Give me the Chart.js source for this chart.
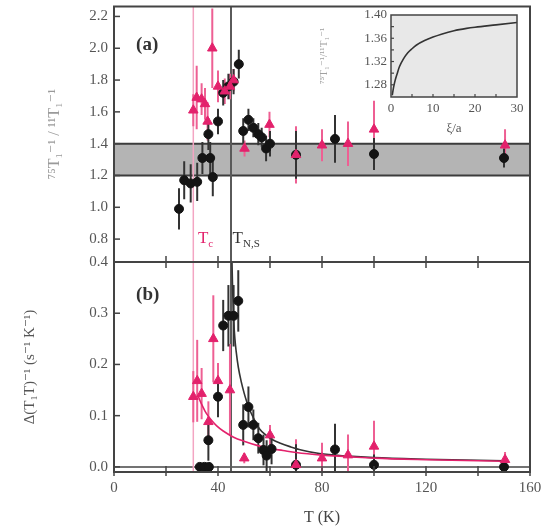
<!DOCTYPE html>
<html>
<head>
<meta charset="utf-8">
<script src="https://cdn.jsdelivr.net/npm/chart.js@4.4.0/dist/chart.umd.min.js"></script>
<style>
  body { margin: 0; background: #fff; }
  #wrap { position: relative; width: 545px; height: 528px; }
  #wrap canvas { position: absolute; left: 0; top: 0; }
</style>
</head>
<body>
<div id="wrap">
  <canvas id="bottom" width="545" height="528"></canvas>
  <canvas id="top" width="545" height="528"></canvas>
  <canvas id="inset" width="230" height="140" style="left:300px"></canvas>
</div>
<script>
// valeurs
const topBlackT   = [25, 27, 29.5, 32, 34, 36.3, 37, 38, 40, 42, 44, 46, 48, 49.7, 51.7, 53.6, 55.5, 56.8, 58.5, 60, 70, 85, 100, 150];
const topBlackV   = [0.99, 1.17, 1.15, 1.16, 1.31, 1.46, 1.31, 1.19, 1.54, 1.72, 1.76, 1.79, 1.90, 1.48, 1.55, 1.50, 1.46, 1.44, 1.37, 1.40, 1.33, 1.43, 1.335, 1.31];
const topBlackErr = [0.13, 0.12, 0.12, 0.12, 0.1, 0.1, 0.1, 0.12, 0.08, 0.08, 0.08, 0.08, 0.09, 0.08, 0.07, 0.06, 0.07, 0.06, 0.08, 0.08, 0.15, 0.15, 0.1, 0.06];

const topPinkT   = [30.5, 31.8, 33.7, 35, 36, 37.8, 40, 42.6, 44.6, 46, 50.2, 59.8, 70, 80, 90, 100, 150.4];
const topPinkV   = [1.61, 1.69, 1.68, 1.65, 1.54, 2.0, 1.76, 1.73, 1.76, 1.80, 1.37, 1.52, 1.33, 1.39, 1.40, 1.49, 1.39];
const topPinkErr = [0.1, 0.2, 0.1, 0.1, 0.12, 0.25, 0.1, 0.08, 0.08, 0.07, 0.05, 0.08, 0.18, 0.1, 0.14, 0.18, 0.1];

const botBlackT   = [33, 34.8, 36.5, 36.3, 40, 42, 44, 46, 47.8, 49.7, 51.7, 53.6, 55.5, 57.5, 58.7, 60.6, 70, 85, 100, 150];
const botBlackV   = [0, 0, 0, 0.052, 0.137, 0.276, 0.295, 0.295, 0.324, 0.082, 0.117, 0.082, 0.056, 0.033, 0.022, 0.035, 0.004, 0.034, 0.004, 0.0];
const botBlackErr = [0.004, 0.004, 0.004, 0.04, 0.04, 0.05, 0.06, 0.06, 0.06, 0.04, 0.04, 0.03, 0.03, 0.03, 0.03, 0.03, 0.04, 0.05, 0.02, 0.008];

const botPinkT   = [30.5, 32, 33.7, 36.3, 38.2, 40, 44.6, 50.1, 60, 70, 80, 90, 100, 150.4];
const botPinkV   = [0.137, 0.168, 0.143, 0.088, 0.25, 0.168, 0.15, 0.017, 0.062, 0.004, 0.017, 0.023, 0.04, 0.014];
const botPinkErr = [0.05, 0.08, 0.05, 0.04, 0.085, 0.035, 0.09, 0.01, 0.02, 0.05, 0.03, 0.04, 0.05, 0.015];

const blackFitT = [45.3, 45.6, 46, 46.5, 47, 47.8, 49, 50, 51, 52.3, 54, 56, 58, 61, 64, 68, 72, 79, 90, 100, 120, 150];
const blackFitV = [0.42, 0.35, 0.29, 0.25, 0.225, 0.195, 0.165, 0.145, 0.128, 0.11, 0.092, 0.074, 0.064, 0.053, 0.046, 0.039, 0.033, 0.026, 0.021, 0.018, 0.015, 0.012];
const pinkFitT  = [32.3, 33, 34, 35, 36, 38, 39.5, 42, 46, 50, 55, 60, 65, 70, 80, 90, 100, 120, 150];
const pinkFitV  = [0.14, 0.13, 0.119, 0.109, 0.101, 0.088, 0.08, 0.07, 0.058, 0.05, 0.042, 0.036, 0.032, 0.028, 0.023, 0.02, 0.017, 0.014, 0.011];

const insetXi    = [0.3, 0.6, 1, 1.5, 2, 3, 4, 5, 6, 8, 10, 12, 15, 18, 20, 25, 30];
const insetRatio = [1.262, 1.275, 1.288, 1.300, 1.311, 1.325, 1.335, 1.342, 1.348, 1.356, 1.362, 1.367, 1.373, 1.377, 1.379, 1.383, 1.387];

const xTickLabels   = [0, 40, 80, 120, 160];
const xMinorTicks   = [0, 20, 40, 60, 80, 100, 120, 140, 160];
const topYTicks     = [0.8, 1.0, 1.2, 1.4, 1.6, 1.8, 2.0, 2.2];
const botYTicks     = [0.0, 0.1, 0.2, 0.3, 0.4];
const insetXTicks   = [0, 10, 20, 30];
const insetYTicks   = [1.28, 1.32, 1.36, 1.40];
const bandRange     = [1.2, 1.4];
const Tc = 30.5, TNS = 45;

const PINK = '#e3226c', PINK_ERR = '#ee5f93', BLACK = '#141414', BLACK_ERR = '#333';
const SERIF = '"Liberation Serif", "DejaVu Serif", serif';

const pts = (xs, ys) => xs.map((x, i) => ({ x: x, y: ys[i] }));

// barres d'erreur verticales
const errorBars = {
  id: 'errorBars',
  beforeDatasetsDraw(chart) {
    const { ctx, chartArea: a, scales: { x, y } } = chart;
    ctx.save();
    ctx.beginPath();
    ctx.rect(a.left, a.top, a.width, a.height);
    ctx.clip();
    chart.data.datasets.forEach(ds => {
      if (!ds.errors) return;
      ctx.strokeStyle = ds.errorColor;
      ctx.lineWidth = 2;
      ds.data.forEach((p, i) => {
        const px = x.getPixelForValue(p.x);
        ctx.beginPath();
        ctx.moveTo(px, y.getPixelForValue(p.y - ds.errors[i]));
        ctx.lineTo(px, y.getPixelForValue(p.y + ds.errors[i]));
        ctx.stroke();
      });
    });
    ctx.restore();
  }
};

// bande grise, lignes verticales, cadre, graduations, textes
const deco = {
  id: 'deco',
  beforeDatasetsDraw(chart, args, o) {
    const { ctx, chartArea: a, scales: { x, y } } = chart;
    ctx.save();
    if (o.fill) {
      ctx.fillStyle = o.fill;
      ctx.fillRect(a.left, a.top, a.width, a.height);
    }
    if (o.band) {
      const y0 = y.getPixelForValue(o.band[0]), y1 = y.getPixelForValue(o.band[1]);
      ctx.fillStyle = '#b4b4b4';
      ctx.fillRect(a.left, y1, a.width, y0 - y1);
      ctx.strokeStyle = '#3c3c3c';
      ctx.lineWidth = 2;
      [y0, y1].forEach(py => {
        ctx.beginPath(); ctx.moveTo(a.left, py); ctx.lineTo(a.right, py); ctx.stroke();
      });
    }
    if (o.zeroLine) {
      const py = y.getPixelForValue(0);
      ctx.strokeStyle = '#444';
      ctx.lineWidth = 1.5;
      ctx.beginPath(); ctx.moveTo(a.left, py); ctx.lineTo(a.right, py); ctx.stroke();
    }
    (o.vlines || []).forEach(v => {
      const px = x.getPixelForValue(v.x);
      ctx.strokeStyle = v.color;
      ctx.lineWidth = v.width;
      ctx.beginPath(); ctx.moveTo(px, a.top); ctx.lineTo(px, a.bottom); ctx.stroke();
    });
    ctx.restore();
  },
  afterDraw(chart, args, o) {
    const { ctx, chartArea: a, scales: { x, y } } = chart;
    ctx.save();
    ctx.strokeStyle = '#444';
    ctx.lineWidth = o.frameWidth || 2;
    ctx.strokeRect(a.left, a.top, a.width, a.height);
    ctx.lineWidth = o.tickWidth || 1.5;
    (o.xTicks || []).forEach(v => {
      const px = x.getPixelForValue(v);
      ctx.beginPath();
      ctx.moveTo(px, a.bottom - o.tickIn);
      ctx.lineTo(px, a.bottom + (o.tickOut || 0));
      ctx.stroke();
    });
    (o.yTicks || []).forEach(v => {
      const py = y.getPixelForValue(v);
      ctx.beginPath();
      ctx.moveTo(a.left, py);
      ctx.lineTo(a.left + o.tickIn, py);
      ctx.stroke();
    });
    (o.texts || []).forEach(t => {
      const px = x.getPixelForValue(t.x), py = y.getPixelForValue(t.y);
      ctx.fillStyle = t.color;
      ctx.textAlign = 'left';
      ctx.textBaseline = 'alphabetic';
      ctx.font = t.font;
      ctx.fillText(t.text, px, py);
      if (t.sub) {
        const w = ctx.measureText(t.text).width;
        ctx.font = t.subFont;
        ctx.fillText(t.sub, px + w, py + 4);
      }
    });
    ctx.restore();
  }
};

const tickFont = { family: SERIF, size: 15 };

// panneau (a)
new Chart(document.getElementById('top'), {
  type: 'scatter',
  data: {
    datasets: [
      {
        data: pts(topPinkT, topPinkV), errors: topPinkErr, errorColor: PINK_ERR,
        pointStyle: 'triangle', pointRadius: 5.5, backgroundColor: PINK, borderColor: PINK, borderWidth: 1
      },
      {
        data: pts(topBlackT, topBlackV), errors: topBlackErr, errorColor: BLACK_ERR,
        pointStyle: 'circle', pointRadius: 4.5, backgroundColor: BLACK, borderColor: BLACK, borderWidth: 1
      }
    ]
  },
  options: {
    responsive: false,
    animation: false,
    layout: { padding: { top: 5, right: 15, bottom: 266, left: 0 } },
    plugins: {
      legend: { display: false },
      tooltip: { enabled: false },
      deco: {
        band: bandRange,
        vlines: [{ x: Tc, color: '#f3a5c3', width: 1.5 }, { x: TNS, color: '#5a5a5a', width: 2 }],
        xTicks: xMinorTicks, tickIn: 6, tickOut: 6,
        yTicks: topYTicks,
        texts: [
          { text: '(a)', x: 8.5, y: 1.99, color: '#333', font: 'bold 19px ' + SERIF },
          { text: 'T', sub: 'c', x: 32.3, y: 0.775, color: PINK, font: '17px ' + SERIF, subFont: '11px ' + SERIF },
          { text: 'T', sub: 'N,S', x: 45.6, y: 0.775, color: '#333', font: '17px ' + SERIF, subFont: '11px ' + SERIF }
        ]
      }
    },
    scales: {
      x: { type: 'linear', min: 0, max: 160, display: false },
      y: {
        type: 'linear', min: 0.656, max: 2.2625,
        grid: { display: false, drawTicks: false },
        border: { display: false },
        afterBuildTicks: s => { s.ticks = topYTicks.map(v => ({ value: v })); },
        afterFit: s => { s.width = 114; s.paddingTop = 0; s.paddingBottom = 0; },
        ticks: { font: tickFont, color: '#555', padding: 6, callback: v => v.toFixed(1) },
        title: {
          display: true, text: '⁷⁵T₁⁻¹ / ¹¹T₁⁻¹', color: '#9a9a9a',
          font: { family: SERIF, size: 16 }, padding: { top: 45, bottom: 0 }
        }
      }
    }
  },
  plugins: [deco, errorBars]
});

// panneau (b)
new Chart(document.getElementById('bottom'), {
  type: 'scatter',
  data: {
    datasets: [
      {
        data: pts(botPinkT, botPinkV), errors: botPinkErr, errorColor: PINK_ERR,
        pointStyle: 'triangle', pointRadius: 5.5, backgroundColor: PINK, borderColor: PINK, borderWidth: 1
      },
      {
        data: pts(botBlackT, botBlackV), errors: botBlackErr, errorColor: BLACK_ERR,
        pointStyle: 'circle', pointRadius: 4.5, backgroundColor: BLACK, borderColor: BLACK, borderWidth: 1
      },
      {
        type: 'line', data: pts(pinkFitT, pinkFitV), borderColor: PINK, borderWidth: 1.6,
        pointRadius: 0, cubicInterpolationMode: 'monotone', fill: false
      },
      {
        type: 'line', data: pts(blackFitT, blackFitV), borderColor: '#333', borderWidth: 1.6,
        pointRadius: 0, cubicInterpolationMode: 'monotone', fill: false
      }
    ]
  },
  options: {
    responsive: false,
    animation: false,
    layout: { padding: { top: 262, right: 15, bottom: 0, left: 0 } },
    plugins: {
      legend: { display: false },
      tooltip: { enabled: false },
      deco: {
        zeroLine: true,
        vlines: [{ x: Tc, color: '#f3a5c3', width: 1.5 }, { x: TNS, color: '#5a5a5a', width: 2 }],
        xTicks: xMinorTicks, tickIn: 6, tickOut: 4,
        yTicks: botYTicks,
        texts: [
          { text: '(b)', x: 8.5, y: 0.325, color: '#333', font: 'bold 19px ' + SERIF }
        ]
      }
    },
    scales: {
      x: {
        type: 'linear', min: 0, max: 160,
        grid: { display: false, drawTicks: false },
        border: { display: false },
        afterBuildTicks: s => { s.ticks = xTickLabels.map(v => ({ value: v })); },
        afterFit: s => { s.height = 56; s.paddingLeft = 0; s.paddingRight = 0; },
        ticks: { font: tickFont, color: '#555', padding: 7 },
        title: {
          display: true, text: 'T (K)', color: '#444',
          font: { family: SERIF, size: 16 }, padding: { top: 0, bottom: 1 }
        }
      },
      y: {
        type: 'linear', min: -0.01, max: 0.4,
        grid: { display: false, drawTicks: false },
        border: { display: false },
        afterBuildTicks: s => { s.ticks = botYTicks.map(v => ({ value: v })); },
        afterFit: s => { s.width = 114; },
        ticks: { font: tickFont, color: '#555', padding: 6, callback: v => v.toFixed(1) },
        title: {
          display: true, text: 'Δ(T₁T)⁻¹ (s⁻¹ K⁻¹)', color: '#555',
          font: { family: SERIF, size: 15 }, padding: { top: 21, bottom: 0 }
        }
      }
    }
  },
  plugins: [deco, errorBars]
});

// encart
new Chart(document.getElementById('inset'), {
  type: 'line',
  data: {
    datasets: [{
      data: pts(insetXi, insetRatio), borderColor: '#333', borderWidth: 1.6,
      pointRadius: 0, cubicInterpolationMode: 'monotone', fill: false
    }]
  },
  options: {
    responsive: false,
    animation: false,
    layout: { padding: { top: 15, right: 13, bottom: 0, left: 0 } },
    plugins: {
      legend: { display: false },
      tooltip: { enabled: false },
      deco: {
        fill: '#e8e8e8', frameWidth: 1.5, tickWidth: 1.2,
        xTicks: [5, 10, 15, 20, 25], tickIn: 3, tickOut: 0,
        yTicks: [1.28, 1.30, 1.32, 1.34, 1.36, 1.38]
      }
    },
    scales: {
      x: {
        type: 'linear', min: 0, max: 30,
        grid: { display: false, drawTicks: false },
        border: { display: false },
        afterBuildTicks: s => { s.ticks = insetXTicks.map(v => ({ value: v })); },
        afterFit: s => { s.height = 43; s.paddingLeft = 0; s.paddingRight = 0; },
        ticks: { font: { family: SERIF, size: 13 }, color: '#555', padding: 4 },
        title: {
          display: true, text: 'ξ/a', color: '#555',
          font: { family: SERIF, size: 13 }, padding: { top: 0, bottom: 4 }
        }
      },
      y: {
        type: 'linear', min: 1.259, max: 1.40,
        grid: { display: false, drawTicks: false },
        border: { display: false },
        afterBuildTicks: s => { s.ticks = insetYTicks.map(v => ({ value: v })); },
        afterFit: s => { s.width = 91; s.paddingTop = 0; s.paddingBottom = 0; },
        ticks: { font: { family: SERIF, size: 13 }, color: '#555', padding: 4, callback: v => v.toFixed(2) },
        title: {
          display: true, text: '⁷⁵T₁⁻¹/¹¹T₁⁻¹', color: '#a0a0a0',
          font: { family: SERIF, size: 11 }, padding: { top: 18, bottom: 0 }
        }
      }
    }
  },
  plugins: [deco]
});
</script>
</body>
</html>
